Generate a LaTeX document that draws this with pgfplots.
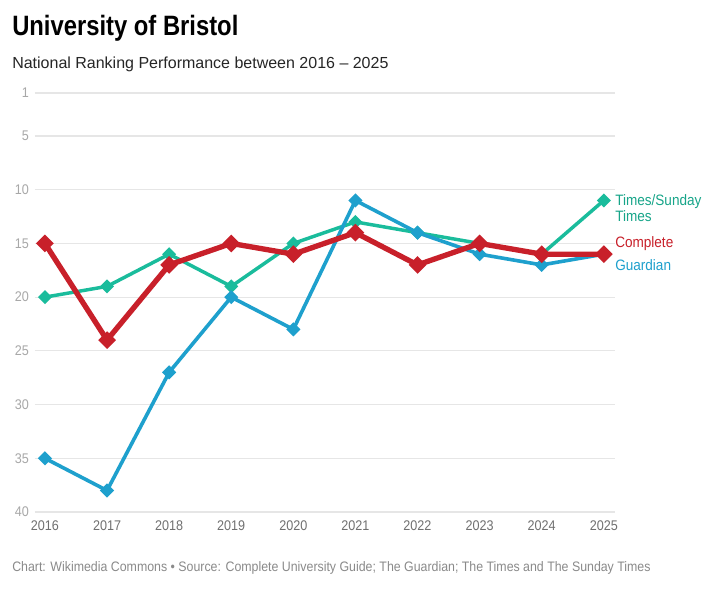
\documentclass[border=0pt]{standalone}
\usepackage{fontspec}
\setmainfont{Liberation Sans}
\newfontfamily\titlefont{Liberation Sans Bold}[FakeStretch=0.85]
\newfontfamily\condfont{Liberation Sans}[FakeStretch=0.9]
\usepackage{pgfplots}
\pgfplotsset{compat=1.18}
\definecolor{timesc}{HTML}{1ABC9C}
\definecolor{timest}{HTML}{17A589}
\definecolor{compc}{HTML}{C8202A}
\definecolor{guardc}{HTML}{1EA0CD}
\definecolor{gridc}{HTML}{E6E6E6}
\definecolor{ylab}{HTML}{A8A8A8}
\definecolor{xlab}{HTML}{707070}
\definecolor{foot}{HTML}{8A8A8A}
\begin{document}
\begin{tikzpicture}
\begin{scope}[x=0.75pt,y=-0.75pt]
\useasboundingbox (0,0) rectangle (715,600);
\fill[white] (0,0) rectangle (715,600);
\node[anchor=base west, inner sep=0pt, font=\titlefont\fontsize{21}{24}\selectfont] at (12,35) {University of Bristol};
\node[anchor=base west, inner sep=0pt, font=\fontsize{12}{14}\selectfont, text=black!85] at (12,68) {National Ranking Performance between 2016 -- 2025};
\node[anchor=base west, inner sep=0pt, font=\condfont\fontsize{10.3}{12}\selectfont, text=foot] at (12,571) {Chart: Wikimedia Commons • Source: Complete University Guide; The Guardian; The Times and The Sunday Times};
\end{scope}
\begin{axis}[
  at={(26.25pt,-384pt)}, anchor=south west,
  scale only axis, width=435pt, height=314.25pt,
  xmin=2015.84, xmax=2025.18,
  ymin=1, ymax=40, y dir=reverse,
  axis line style={draw=none},
  tick style={draw=none},
  xtick={2016,...,2025},
  ytick={1,5,10,15,20,25,30,35,40},
  ymajorgrids, grid style={gridc, line width=0.8pt},
  /pgf/number format/assume math mode=true,
  /pgf/number format/1000 sep={},
  yticklabel style={font=\condfont\fontsize{10.5}{12}\selectfont, text=ylab, anchor=east, xshift=-1pt},
  xticklabel style={font=\condfont\fontsize{10.5}{12}\selectfont, text=xlab, yshift=-3pt},
  clip=false,
]
\addplot[timesc, line width=2.6pt, mark=square*, mark options={rotate=45}, mark size=2.4pt] coordinates {
(2016,20) (2017,19) (2018,16) (2019,19) (2020,15) (2021,13) (2022,14) (2023,15) (2024,16) (2025,11)};
\addplot[guardc, line width=2.7pt, mark=square*, mark options={rotate=45}, mark size=2.4pt] coordinates {
(2016,35) (2017,38) (2018,27) (2019,20) (2020,23) (2021,11) (2022,14) (2023,16) (2024,17) (2025,16)};
\addplot[compc, line width=4pt, mark=square*, mark options={rotate=45}, mark size=2.7pt] coordinates {
(2016,15) (2017,24) (2018,17) (2019,15) (2020,16) (2021,14) (2022,17) (2023,15) (2024,16) (2025,16)};
\node[anchor=west, align=left, text=timest, font=\condfont\fontsize{11.3}{12}\selectfont, inner sep=0pt] at (axis cs:2025.18,11.7) {Times/Sunday\\Times};
\node[anchor=west, text=compc, font=\condfont\fontsize{11.3}{12}\selectfont, inner sep=0pt] at (axis cs:2025.18,15.0) {Complete};
\node[anchor=west, text=guardc, font=\condfont\fontsize{11.3}{12}\selectfont, inner sep=0pt] at (axis cs:2025.18,17.0) {Guardian};
\end{axis}
\end{tikzpicture}
\end{document}
